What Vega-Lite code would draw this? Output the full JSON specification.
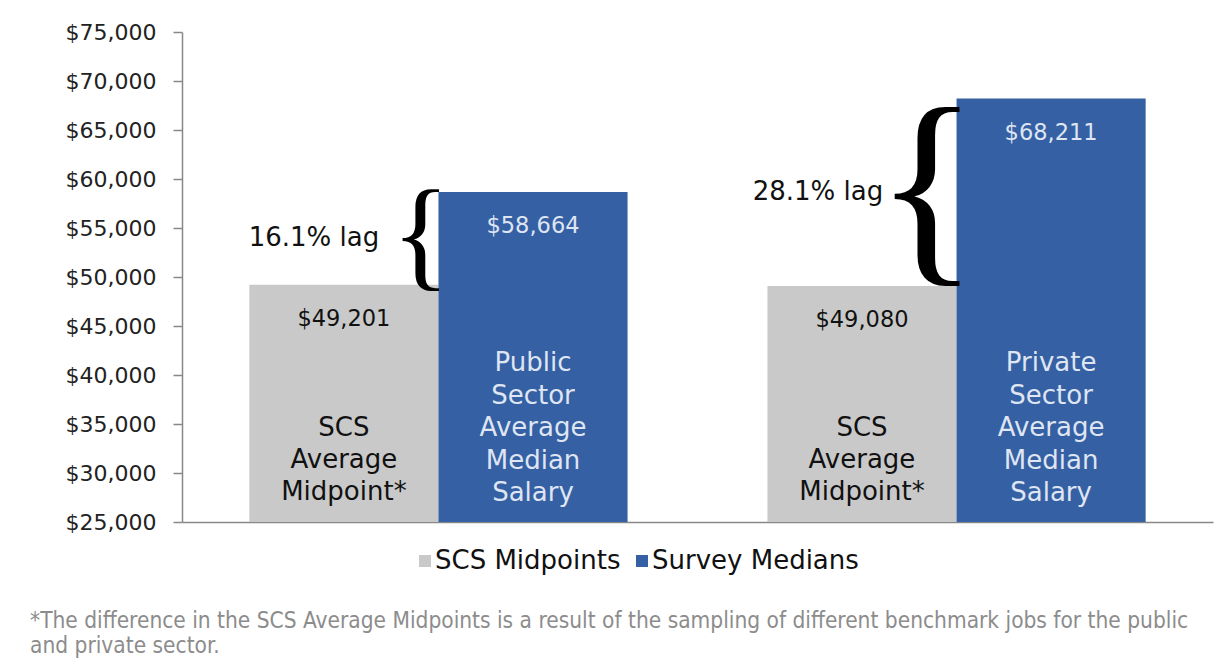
{
  "$schema": "https://vega.github.io/schema/vega-lite/v6.json",
  "width": 1031,
  "height": 490,
  "padding": {"left": 30, "top": 21, "right": 5, "bottom": 5},
  "background": "white",
  "config": {"view": {"stroke": null}, "font": "DejaVu Sans"},
  "title": {
    "text": ["*The difference in the SCS Average Midpoints is a result of the sampling of different benchmark jobs for the public", "and private sector."],
    "orient": "bottom",
    "anchor": "start",
    "frame": "bounds",
    "font": "Liberation Sans Narrow, DejaVu Sans Condensed, Open Sans",
    "fontSize": 22.5,
    "fontWeight": "normal",
    "color": "#8c8c8c",
    "lineHeight": 25,
    "offset": 36,
    "dx": -35
  },
  "datasets": {
    "bars": [
      {"group": "Public", "series": "SCS Midpoints", "value": 49201, "name": "SCS\nAverage\nMidpoint*"},
      {"group": "Public", "series": "Survey Medians", "value": 58664, "name": "Public\nSector\nAverage\nMedian\nSalary"},
      {"group": "Private", "series": "SCS Midpoints", "value": 49080, "name": "SCS\nAverage\nMidpoint*"},
      {"group": "Private", "series": "Survey Medians", "value": 68211, "name": "Private\nSector\nAverage\nMedian\nSalary"}
    ],
    "lags": [
      {"group": "Public", "series": "SCS Midpoints", "mid": 53932, "lag": "16.1% lag"},
      {"group": "Private", "series": "SCS Midpoints", "mid": 58645, "lag": "28.1% lag"}
    ]
  },
  "encoding": {
    "x": {
      "field": "group", "type": "nominal", "sort": ["Public", "Private"],
      "scale": {"paddingInner": 0.27, "paddingOuter": 0.13},
      "axis": {"title": null, "labels": false, "ticks": false, "domainColor": "#888888", "domainWidth": 1.5}
    },
    "xOffset": {"field": "series", "type": "nominal", "sort": ["SCS Midpoints", "Survey Medians"], "scale": {"domain": ["SCS Midpoints", "Survey Medians"]}}
  },
  "layer": [
    {
      "data": {"name": "bars"},
      "mark": {"type": "bar"},
      "encoding": {
        "y": {
          "field": "value", "type": "quantitative",
          "scale": {"domain": [25000, 75000], "zero": false},
          "axis": {
            "title": null, "values": [25000, 30000, 35000, 40000, 45000, 50000, 55000, 60000, 65000, 70000, 75000],
            "format": "$,.0f", "labelFontSize": 22, "labelColor": "#222222", "tickSize": 9, "tickColor": "#888888",
            "domainColor": "#888888", "domainWidth": 1.5, "tickWidth": 1.5, "labelPadding": 17, "grid": false
          }
        },
        "y2": {"datum": 25000},
        "color": {
          "field": "series", "type": "nominal",
          "scale": {"domain": ["SCS Midpoints", "Survey Medians"], "range": ["#c9c9c9", "#3560a3"]},
          "legend": {
            "orient": "none", "legendX": 230, "legendY": 516, "direction": "horizontal", "title": null, "symbolType": "square",
            "symbolSize": 144, "labelFontSize": 26, "labelFont": "DejaVu Sans", "labelColor": "#111111",
            "columnPadding": 8, "symbolStrokeWidth": 0, "labelOffset": -3, "labelLimit": 400
          }
        }
      }
    },
    {
      "data": {"name": "bars"},
      "mark": {"type": "text", "baseline": "middle", "dy": 34, "fontSize": 22.5},
      "encoding": {
        "y": {"field": "value", "type": "quantitative"},
        "text": {"field": "value", "type": "quantitative", "format": "$,.0f"},
        "color": {"condition": {"test": "datum.series === 'SCS Midpoints'", "value": "#111111"}, "value": "#dfe5f2"}
      }
    },
    {
      "data": {"name": "bars"},
      "transform": [{"filter": "datum.series === 'SCS Midpoints'"}],
      "mark": {"type": "text", "baseline": "bottom", "dy": -81, "fontSize": 26, "lineHeight": 32, "lineBreak": "\n", "color": "#111111"},
      "encoding": {
        "y": {"datum": 25000},
        "text": {"field": "name", "type": "nominal"}
      }
    },
    {
      "data": {"name": "bars"},
      "transform": [{"filter": "datum.series === 'Survey Medians'"}],
      "mark": {"type": "text", "baseline": "bottom", "dy": -146, "fontSize": 26, "lineHeight": 32.5, "lineBreak": "\n", "color": "#dfe5f2"},
      "encoding": {
        "y": {"datum": 25000},
        "text": {"field": "name", "type": "nominal"}
      }
    },
    {
      "data": {"name": "lags"},
      "transform": [{"filter": "datum.group === 'Public'"}],
      "mark": {"type": "text", "baseline": "middle", "dx": -30, "fontSize": 26, "color": "#111111"},
      "encoding": {
        "y": {"field": "mid", "type": "quantitative"},
        "text": {"field": "lag", "type": "nominal"}
      }
    },
    {
      "data": {"name": "lags"},
      "transform": [{"filter": "datum.group === 'Private'"}],
      "mark": {"type": "text", "baseline": "middle", "dx": -44, "fontSize": 26, "color": "#111111"},
      "encoding": {
        "y": {"field": "mid", "type": "quantitative"},
        "text": {"field": "lag", "type": "nominal"}
      }
    },
    {
      "data": {"name": "lags"},
      "transform": [{"filter": "datum.group === 'Public'"}],
      "mark": {"type": "text", "baseline": "middle", "dx": 77, "fontSize": 122, "font": "Liberation Serif", "color": "#000000"},
      "encoding": {
        "y": {"field": "mid", "type": "quantitative"},
        "text": {"value": "{"}
      }
    },
    {
      "data": {"name": "lags"},
      "transform": [{"filter": "datum.group === 'Private'"}],
      "mark": {"type": "text", "baseline": "middle", "dx": 65, "fontSize": 217, "font": "Liberation Serif", "color": "#000000"},
      "encoding": {
        "y": {"field": "mid", "type": "quantitative"},
        "text": {"value": "{"}
      }
    }
  ]
}
